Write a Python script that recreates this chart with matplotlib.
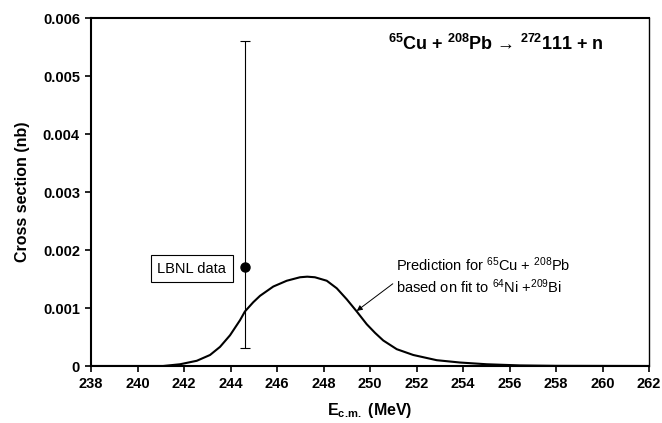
import matplotlib
matplotlib.use("Agg")
import matplotlib.pyplot as plt
import numpy as np

plt.rcParams["font.family"] = ["Liberation Sans", "DejaVu Sans"]
plt.rcParams["mathtext.fontset"] = "custom"
plt.rcParams["mathtext.rm"] = "Liberation Sans"
plt.rcParams["mathtext.bf"] = "Liberation Sans:bold"
plt.rcParams["mathtext.default"] = "regular"

# Prediction curve
energy = [238, 240, 241.1, 241.83, 242.55, 243.12, 243.55, 243.98, 244.41,
          244.62, 244.98, 245.27, 245.84, 246.42, 246.99, 247.3, 247.63,
          248.14, 248.57, 249.0, 249.43, 249.86, 250.22, 250.57, 251.15,
          251.86, 252.87, 253.87, 255.02, 256.45, 258, 262]
sigma = [0, 0, 0, 0.00003, 0.00009, 0.00019, 0.00033, 0.00053, 0.00079,
         0.00094, 0.00110, 0.00121, 0.00137, 0.00147, 0.00153, 0.00154,
         0.00153, 0.00147, 0.00134, 0.00115, 0.00094, 0.00072, 0.00057,
         0.00044, 0.00029, 0.00019, 0.00010, 0.00006, 0.00003, 0.00001,
         0.000003, 0]

# LBNL measurement
lbnl_e = [244.64]
lbnl_sigma = [0.0017]
lbnl_err_lo = [0.0017 - 0.00031]
lbnl_err_hi = [0.0056 - 0.0017]

xticks = np.arange(238, 263, 2)
yticks = [0, 0.001, 0.002, 0.003, 0.004, 0.005, 0.006]
ytick_labels = ["0", "0.001", "0.002", "0.003", "0.004", "0.005", "0.006"]

fig = plt.figure(figsize=(6.62, 4.23), dpi=100)
ax = fig.add_axes([91 / 662, 1 - 366 / 423, 558 / 662, 348 / 423])

ax.plot(energy, sigma, color="black", linewidth=1.5,
        solid_joinstyle="round")
ax.errorbar(lbnl_e, lbnl_sigma, yerr=[lbnl_err_lo, lbnl_err_hi], fmt="o",
            color="black", markersize=6.5, elinewidth=0.8, capsize=3.5,
            capthick=0.8)

ax.set_xlim(238, 262)
ax.set_ylim(0, 0.006)
ax.set_xticks(xticks)
ax.set_yticks(yticks)
ax.set_yticklabels(ytick_labels)
for lab in ax.get_xticklabels() + ax.get_yticklabels():
    lab.set_fontweight("bold")
    lab.set_fontsize(10.5)
ax.tick_params(direction="out", length=4, width=1.2, pad=4)

for side in ["left", "bottom", "top"]:
    ax.spines[side].set_linewidth(1.5)
ax.spines["right"].set_linewidth(1.0)

ax.set_xlabel(r"E$_{\mathbf{c.\!m.}}$ (MeV)", fontsize=11.5,
              fontweight="bold", labelpad=7)
ax.set_ylabel("Cross section (nb)", fontsize=11.5, fontweight="bold",
              labelpad=9)

ax.text(255.42, 0.00555,
        r"$^{\mathbf{65}}$Cu + $^{\mathbf{208}}$Pb → $^{\mathbf{272}}$111 + n",
        fontsize=13, fontweight="bold", ha="center", va="center")

ax.text(242.34, 0.00168, "LBNL data", fontsize=10.5, ha="center",
        va="center",
        bbox=dict(boxstyle="square,pad=0.45", facecolor="white",
                  edgecolor="black", linewidth=0.8))

ax.annotate("Prediction for $^{65}$Cu + $^{208}$Pb\nbased on fit to $^{64}$Ni +$^{209}$Bi",
            xy=(249.43, 0.00095), xytext=(251.1, 0.00156),
            fontsize=10.5, ha="left", va="center", linespacing=1.25,
            arrowprops=dict(arrowstyle="-|>", color="black", linewidth=0.7,
                            mutation_scale=8, shrinkA=0, shrinkB=0,
                            relpos=(0, 0.35)))

fig.savefig("out.png", dpi=100)
